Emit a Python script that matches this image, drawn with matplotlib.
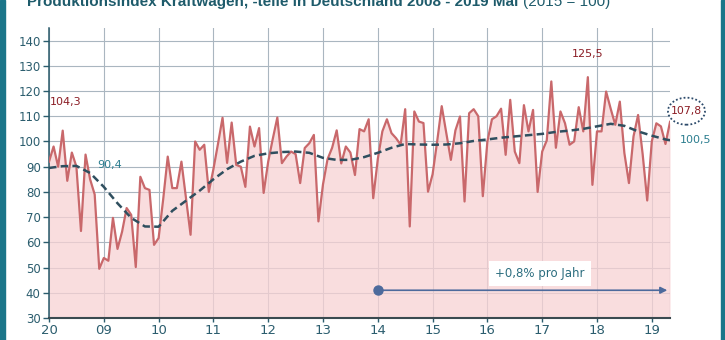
import numpy as np
import matplotlib.pyplot as plt
from matplotlib.patches import Rectangle, Ellipse

# Produktionsindex Kraftwagen (2015 = 100), monatlich Jan 2008 - Mai 2019
idx_2008 = [92, 98, 90, 104.3, 84.4, 95.6, 90, 64.5, 94.8, 85, 79, 49.5]
idx_2009 = [53.8, 52.7, 69.7, 57.4, 64.2, 73.6, 70.9, 50.2, 86, 81.5, 80.8, 59]
idx_2010 = [61.7, 77, 94, 81.5, 81.5, 92, 77.6, 63, 100, 96.7, 98.7, 80]
idx_2011 = [89, 99, 109.4, 91.5, 107.5, 90.7, 90, 82, 105.9, 98, 105.3, 79.6]
idx_2012 = [92, 101, 109.5, 91.4, 94, 96, 95, 83.5, 97.4, 99.3, 102.6, 68.3]
idx_2013 = [83, 93, 97.5, 104.4, 91.3, 98, 95.6, 86.7, 104.9, 104, 108.8, 77.5]
idx_2014 = [93, 104, 108.8, 103.3, 101.3, 98.7, 112.8, 66.3, 111.9, 107.9, 107.3, 80.1]
idx_2015 = [87, 100, 114, 103.3, 92.7, 104.4, 109.9, 76.2, 111.2, 112.8, 110, 78.3]
idx_2016 = [100, 108.8, 110, 113, 94.7, 116.5, 96, 91.4, 114.4, 104, 112.5, 80]
idx_2017 = [96, 100.4, 123.8, 97.5, 111.9, 107.2, 98.7, 100, 113.6, 104, 125.5, 82.8]
idx_2018 = [104, 104, 119.8, 113, 106.6, 115.8, 95.4, 83.5, 102, 110.5, 95, 76.6]
idx_2019 = [100, 107.2, 106, 99, 107.8]

production = (idx_2008 + idx_2009 + idx_2010 + idx_2011 + idx_2012 + idx_2013
              + idx_2014 + idx_2015 + idx_2016 + idx_2017 + idx_2018 + idx_2019)
months = np.arange(len(production))

# Trend (gleitender Durchschnitt), vierteljaehrlich
trend_months = [0, 3, 6, 9, 12, 15, 18, 21, 24, 27, 30, 33, 36, 39, 42, 45,
                48, 51, 54, 57, 60, 63, 66, 69, 72, 75, 78, 81, 84, 87, 90, 93,
                96, 99, 102, 105, 108, 111, 114, 117, 120, 123, 126, 129, 132,
                135, 136]
trend_values = [89.5, 90.2, 90.3, 87.5, 82, 75.5, 69.7, 66.3, 66.2, 72.5, 76.5,
                80.5, 85, 89, 92, 94.3, 95.3, 95.8, 96, 95.5, 93.5, 92.7, 92.7,
                93.8, 95.5, 97.5, 99, 98.8, 98.7, 98.8, 99.3, 100.2, 100.8,
                101.5, 102, 102.5, 103, 103.8, 104.3, 105, 106, 107, 106.2, 104,
                102.3, 100.8, 100.5]

year_labels = ['20', '09', '10', '11', '12', '13', '14', '15', '16', '17', '18', '19']
year_ticks = np.arange(len(year_labels)) * 12

teal = '#1b7589'
label_col = '#2b5d6e'
red_txt = '#8b1c24'
trend_txt = '#2b7d8f'

fig = plt.figure(figsize=(7.25, 3.4), dpi=100)
fig.patch.set_facecolor('white')

# seitliche Rahmenstreifen
fig.patches.append(Rectangle((0, 0), 0.007, 1, transform=fig.transFigure,
                             color=teal, zorder=0))
fig.patches.append(Rectangle((0.994, 0), 0.006, 1, transform=fig.transFigure,
                             color=teal, zorder=0))

# Titel (oben angeschnitten)
title_font = ['Liberation Sans', 'DejaVu Sans']
t1 = fig.text(0.037, 0.982, 'Produktionsindex Kraftwagen, -teile in Deutschland 2008 - 2019 Mai',
              fontsize=11, fontweight='bold', color='#1e5b6b', va='baseline',
              family=title_font)
fig.canvas.draw()
bb = t1.get_window_extent()
fig.text(bb.x1 / fig.bbox.width + 0.006, 0.982, '(2015 = 100)', fontsize=11,
         color='#1e5b6b', va='baseline', family=title_font)

ax = fig.add_axes([0.0676, 0.0647, 0.8566, 0.853])
ax.set_xlim(0, 136)
ax.set_ylim(30, 145)
ax.set_axisbelow(True)
ax.grid(True, color='#aab6c0', linewidth=0.8)

ax.fill_between(months, production, 30, color='#f8d2d4', alpha=0.75, linewidth=0)
ax.plot(months, production, color='#c9686b', linewidth=1.6, zorder=3)
ax.plot([months[-1], months[-1]], [30, production[-1]], color='#a89098', linewidth=0.8)
ax.plot(trend_months, trend_values, color='#2f4f5f', linewidth=1.8,
        dashes=(3, 1.7), zorder=4)

ax.set_xticks(year_ticks)
ax.set_xticklabels(year_labels)
ax.set_yticks(np.arange(30, 141, 10))

for s in ['top', 'right']:
    ax.spines[s].set_visible(False)
ax.spines['left'].set_color('#2a5a6a')
ax.spines['left'].set_linewidth(1.1)
ax.spines['bottom'].set_color('#3a4a50')
ax.spines['bottom'].set_linewidth(1.5)
ax.tick_params(axis='y', colors=label_col, labelsize=8.5, length=4, width=1, pad=2)
ax.tick_params(axis='x', colors=label_col, length=3, width=1, pad=1.5)
for lab in ax.get_xticklabels():
    lab.set_family(['Liberation Sans Narrow', 'DejaVu Sans'])
    lab.set_fontsize(9.5)

# Werte-Beschriftungen
ax.text(0.2, 115.7, '104,3', color=red_txt, fontsize=8, va='center', ha='left')
ax.text(10.5, 90.7, '90,4', color=trend_txt, fontsize=8, va='center', ha='left')
ax.text(118, 134.8, '125,5', color=red_txt, fontsize=8, va='center', ha='center')
ax.text(139.6, 112, '107,8', color=red_txt, fontsize=7.8, va='center', ha='center',
        clip_on=False)
ax.add_patch(Ellipse((139.6, 112), 8.1, 10.7, fill=False, edgecolor='#2c4a6a',
                     linestyle=(0, (1, 1.2)), linewidth=1.3, clip_on=False))
ax.text(138.2, 100.6, '100,5', color=trend_txt, fontsize=8, va='center', ha='left',
        clip_on=False)

# Wachstumspfeil
ax.annotate('', xy=(135.4, 41), xytext=(72, 41),
            arrowprops=dict(arrowstyle='-|>', color='#4d6a9c', lw=1.2,
                            mutation_scale=10, shrinkA=0, shrinkB=0))
ax.plot([72], [41], 'o', color='#4d6a9c', markersize=6.5, zorder=5)
ax.text(107.5, 47.7, '+0,8% pro Jahr', color='#2b6d7f', fontsize=8.5, ha='center',
        va='center', bbox=dict(boxstyle='square,pad=0.5', facecolor='white',
                               edgecolor='none'))

fig.savefig('out.png', dpi=100)
